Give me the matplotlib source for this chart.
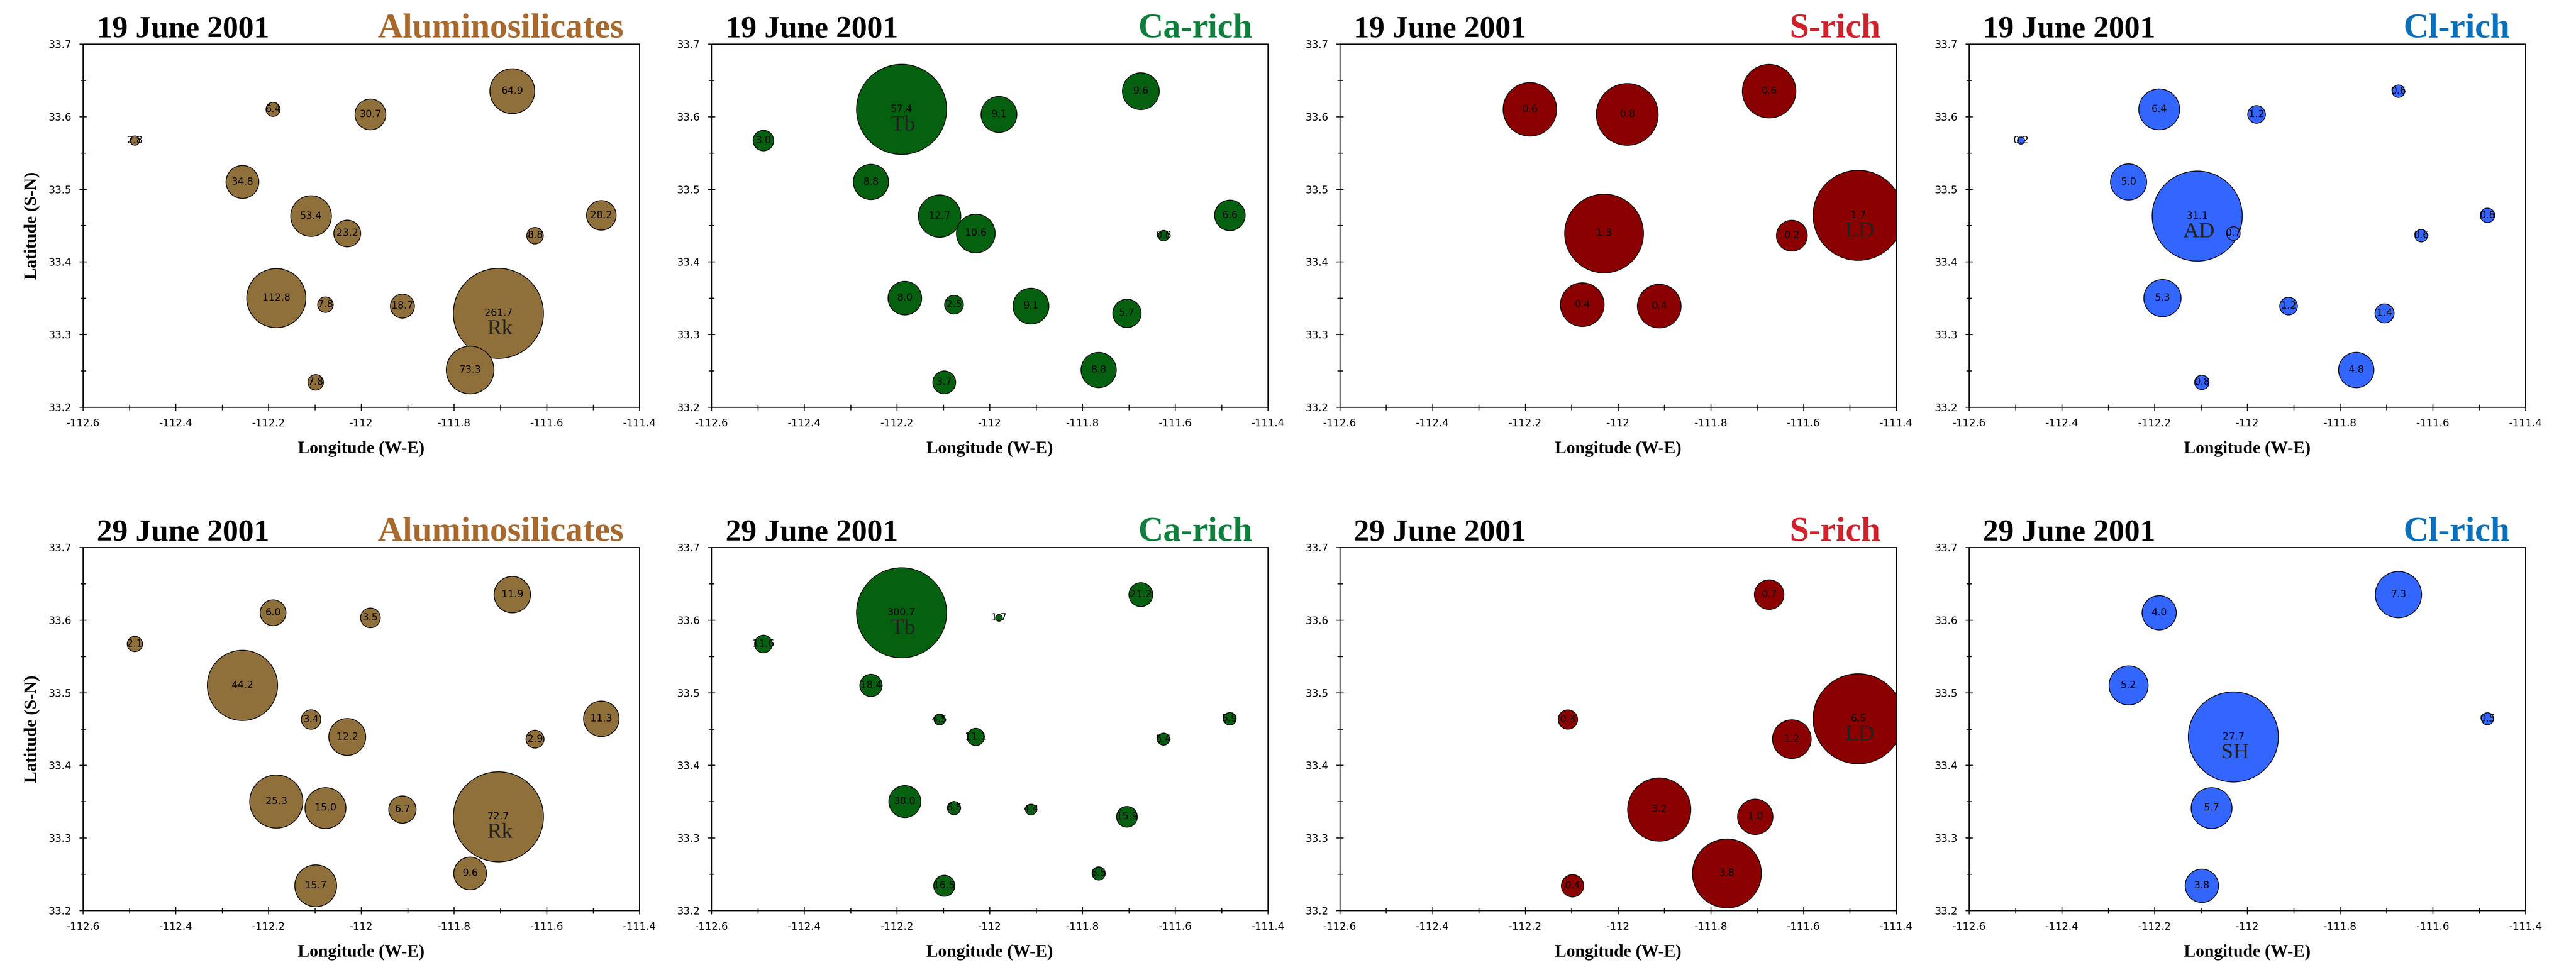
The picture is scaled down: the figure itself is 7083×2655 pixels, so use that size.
import numpy as np
import matplotlib
matplotlib.use('Agg')
import matplotlib.pyplot as plt
from matplotlib.ticker import MultipleLocator, FuncFormatter
from matplotlib import font_manager

nan = np.nan

# sampling sites (same 15 sites in every panel)
station_lon = [-112.488, -112.190, -111.980, -111.674, -112.256, -112.108, -112.030, -111.625,
               -111.482, -112.183, -112.077, -111.911, -111.704, -111.765, -112.098]
station_lat = [33.567, 33.610, 33.603, 33.635, 33.510, 33.463, 33.439, 33.436,
               33.464, 33.350, 33.341, 33.339, 33.329, 33.251, 33.234]

dates = ['19 June 2001', '29 June 2001']
classes = ['Aluminosilicates', 'Ca-rich', 'S-rich', 'Cl-rich']

# particle class concentrations per site, nan = no bubble
alum_19 = [2.8, 6.4, 30.7, 64.9, 34.8, 53.4, 23.2, 8.8, 28.2, 112.8, 7.8, 18.7, 261.7, 73.3, 7.8]
ca_19 = [3.0, 57.4, 9.1, 9.6, 8.8, 12.7, 10.6, 0.8, 6.6, 8.0, 2.5, 9.1, 5.7, 8.8, 3.7]
s_19 = [nan, 0.6, 0.8, 0.6, nan, nan, 1.3, 0.2, 1.7, nan, 0.4, 0.4, nan, nan, nan]
cl_19 = [0.2, 6.4, 1.2, 0.6, 5.0, 31.1, 0.7, 0.6, 0.8, 5.3, nan, 1.2, 1.4, 4.8, 0.8]

alum_29 = [2.1, 6.0, 3.5, 11.9, 44.2, 3.4, 12.2, 2.9, 11.3, 25.3, 15.0, 6.7, 72.7, 9.6, 15.7]
ca_29 = [11.6, 300.7, 1.7, 21.2, 18.4, 4.5, 11.1, 5.4, 5.9, 38.0, 6.5, 4.4, 15.9, 6.5, 16.5]
s_29 = [nan, nan, nan, 0.7, nan, 0.3, nan, 1.2, 6.5, nan, nan, 3.2, 1.0, 3.8, 0.4]
cl_29 = [nan, 4.0, nan, 7.3, 5.2, nan, 27.7, nan, 0.5, nan, 5.7, nan, nan, nan, 3.8]

# site tags drawn under the biggest bubble: (station index, name)
sites_19 = [(12, 'Rk'), (1, 'Tb'), (8, 'LD'), (5, 'AD')]
sites_29 = [(12, 'Rk'), (1, 'Tb'), (8, 'LD'), (6, 'SH')]

title_colors = ['#A8692E', '#0E7F3C', '#D1222C', '#0A70BA']
fill_colors = ['#8F6F3A', '#05600F', '#8B0000', '#3366FF']

rows = [[alum_19, ca_19, s_19, cl_19], [alum_29, ca_29, s_29, cl_29]]
row_sites = [sites_19, sites_29]

names = {f.name for f in font_manager.fontManager.ttflist}
if 'Liberation Sans Narrow' in names:
    tick_font, tick_size = 'Liberation Sans Narrow', 9
else:
    tick_font, tick_size = 'DejaVu Sans', 6.8
serif = ['Liberation Serif', 'DejaVu Serif']

plt.rcParams['font.family'] = [tick_font, 'DejaVu Sans']
plt.rcParams['axes.unicode_minus'] = False

fig = plt.figure(figsize=(7083 / 300, 2655 / 300), dpi=300)

lefts = [0.0322, 0.2762, 0.5201, 0.7644]
bottoms = [0.5782, 0.0565]
W, H = 0.2160, 0.3762
D_PT = 59.5  # diameter of the largest bubble, points

lon = np.array(station_lon)
lat = np.array(station_lat)
fmt = FuncFormatter(lambda v, p: f'{v:g}')

for r in range(2):
    for c in range(4):
        ax = fig.add_axes([lefts[c], bottoms[r], W, H])
        v = np.array(rows[r][c], dtype=float)
        ok = ~np.isnan(v)
        sizes = D_PT ** 2 * v[ok] / np.nanmax(v)
        ax.scatter(lon[ok], lat[ok], s=sizes, c=fill_colors[c], edgecolors='black',
                   linewidths=0.5, zorder=2)
        for x, y, val in zip(lon[ok], lat[ok], v[ok]):
            ax.text(x, y, f'{val:.1f}', ha='center', va='center', fontsize=6.5,
                    family='DejaVu Sans', zorder=3)
        idx, tag = row_sites[r][c]
        ax.annotate(tag, (lon[idx], lat[idx]), xytext=(1, -10.6), textcoords='offset points',
                    ha='center', va='center', fontsize=14.5, family=serif, color='#222222',
                    zorder=3)

        ax.set_xlim(-112.6, -111.4)
        ax.set_ylim(33.2, 33.7)
        ax.xaxis.set_major_locator(MultipleLocator(0.2))
        ax.xaxis.set_minor_locator(MultipleLocator(0.1))
        ax.yaxis.set_major_locator(MultipleLocator(0.1))
        ax.yaxis.set_minor_locator(MultipleLocator(0.05))
        ax.xaxis.set_major_formatter(fmt)
        ax.yaxis.set_major_formatter(fmt)
        ax.tick_params(which='major', direction='inout', length=5, width=0.6,
                       labelsize=tick_size, pad=5)
        ax.tick_params(which='minor', direction='inout', length=3.6, width=0.6)
        for sp in ax.spines.values():
            sp.set_linewidth(0.7)

        ax.text(0.025, 1.018, dates[r], transform=ax.transAxes, ha='left', va='baseline',
                fontsize=20.5, fontweight='bold', family=serif)
        ax.text(0.972, 1.018, classes[c], transform=ax.transAxes, ha='right', va='baseline',
                fontsize=23, fontweight='bold', family=serif, color=title_colors[c])

        ax.set_xlabel('Longitude (W-E)', fontsize=11.5, fontweight='bold', family=serif,
                      va='baseline')
        ax.xaxis.set_label_coords(0.5, -0.127)
        if c == 0:
            ax.set_ylabel('Latitude (S-N)', fontsize=11.5, fontweight='bold', family=serif,
                          va='center')
            ax.yaxis.set_label_coords(-0.092, 0.5)

fig.savefig('out.png', dpi=300)
